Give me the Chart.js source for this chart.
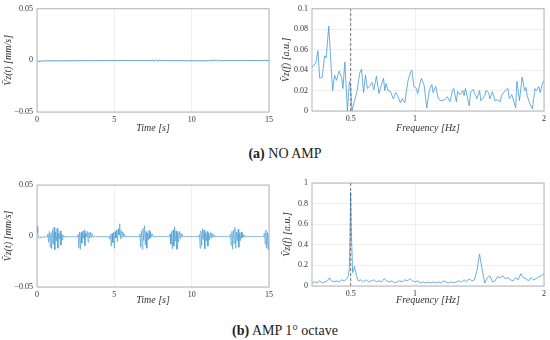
<!DOCTYPE html>
<html><head><meta charset="utf-8">
<script src="https://cdn.jsdelivr.net/npm/chart.js@4/dist/chart.umd.min.js"></script>
<style>
body{margin:0;background:#fff;width:550px;height:340px;position:relative;overflow:hidden}
canvas{position:absolute}
.cap{position:absolute;left:10px;width:550px;text-align:center;font-family:"Liberation Serif",serif;font-size:14px;line-height:16px;color:#222}
</style></head><body>
<canvas id="c1" width="280" height="137" style="left:0;top:0"></canvas>
<canvas id="c2" width="278" height="137" style="left:272px;top:0"></canvas>
<canvas id="c3" width="280" height="137" style="left:0;top:172px"></canvas>
<canvas id="c4" width="278" height="137" style="left:272px;top:172px"></canvas>
<div class="cap" style="top:146px"><b>(a)</b> NO AMP</div>
<div class="cap" style="top:323px"><b>(b)</b> AMP 1° octave</div>
<script>
// ---------- DATA ----------
const timeStepA = 0.1;   // s, NO AMP time series sampling
const timeStepB = 0.05;  // s, AMP time series sampling
const noAmpTime = [
 0.0002,-0.0012,-0.0009,-0.0007,-0.0006,-0.0005,-0.0006,-0.0004,-0.0005,-0.0004,
 -0.0005,-0.0003,-0.0004,-0.0005,-0.0003,-0.0004,-0.0006,-0.0004,-0.0005,-0.0003,
 -0.0004,-0.0005,-0.0003,-0.0004,-0.0004,-0.0002,-0.0004,-0.0003,-0.0004,-0.0002,
 -0.0003,-0.0004,-0.0002,-0.0003,-0.0003,-0.0002,-0.0004,-0.0002,-0.0003,-0.0002,
 -0.0002,-0.0003,-0.0002,-0.0003,-0.0001,-0.0002,-0.0003,-0.0002,-0.0002,-0.0003,
 -0.0002,-0.0001,-0.0003,-0.0002,-0.0002,-0.0001,-0.0003,-0.0002,-0.0001,-0.0002,
 -0.0002,-0.0003,-0.0001,-0.0002,-0.0002,-0.0001,-0.0003,-0.0002,-0.0002,-0.0001,
 -0.0002,-0.0003,-0.0001,-0.0002,-0.0004,0.0004,-0.0008,0.0006,-0.0007,0.0003,
 -0.0004,-0.0002,-0.0003,-0.0001,-0.0002,-0.0003,-0.0002,-0.0003,-0.0002,-0.0004,
 -0.0003,-0.0002,-0.0004,-0.0003,-0.0002,-0.0004,-0.0003,-0.0004,-0.0003,-0.0005,
 -0.0004,-0.0003,-0.0005,-0.0004,-0.0003,-0.0004,-0.0005,-0.0003,-0.0004,-0.0003,
 -0.0004,-0.0002,-0.0005,0.0004,-0.0007,0.0006,-0.0006,0.0005,-0.0004,-0.0002,
 -0.0003,-0.0002,-0.0003,-0.0001,-0.0002,-0.0003,-0.0002,-0.0001,-0.0002,-0.0003,
 -0.0002,-0.0001,-0.0002,-0.0003,-0.0001,-0.0002,-0.0001,-0.0002,-0.0003,-0.0001,
 -0.0002,-0.0001,-0.0003,0.0002,-0.0004,0.0003,-0.0003,0.0001,-0.0002,-0.0001,
 0
];
const ampTime = [
 0.0095,0.0030,-0.0015,-0.0022,-0.0012,-0.0018,-0.0010,-0.0014,-0.0009,-0.0011,-0.0008,-0.0010,-0.0007,-0.0009, 0.0020,-0.0060,0.0045,-0.0110,0.0030,-0.0125,
 0.0060,-0.0080,0.0085,-0.0135,0.0040,-0.0050,0.0075,-0.0120,0.0025,-0.0030,0.0050,-0.0090,0.0020,-0.0040,0.0010, -0.0010,-0.0005,-0.0009,-0.0006,-0.0008,
 -0.0006,-0.0008,-0.0005,-0.0007,-0.0006,-0.0008,-0.0005,-0.0007,-0.0006,-0.0005,-0.0007,-0.0006,-0.0008, 0.0015,-0.0115,0.0040,-0.0130,0.0035,-0.0070,0.0050,
 -0.0025,0.0055,-0.0095,0.0030,-0.0010,0.0045,-0.0060,0.0035,-0.0020,0.0040,-0.0015,0.0025,-0.0005, -0.0008,-0.0006,-0.0007,-0.0005,-0.0008,-0.0006,-0.0007,
 -0.0006,-0.0008,-0.0005,-0.0007,-0.0006,-0.0004,-0.0007,-0.0005,-0.0006,-0.0008,-0.0005,-0.0006,-0.0007,-0.0005, -0.0030,0.0015,-0.0100,0.0025,-0.0065,0.0035,
 -0.0120,0.0045,-0.0020,0.0060,-0.0055,0.0070,0.0010,0.0120,-0.0030,0.0055,-0.0015,0.0040,-0.0005,0.0020,-0.0010, -0.0006,-0.0008,-0.0005,-0.0007,-0.0006,
 -0.0005,-0.0007,-0.0006,-0.0004,-0.0007,-0.0005,-0.0006,-0.0008,-0.0005,-0.0006,-0.0007,-0.0005,-0.0006, 0.0020,-0.0110,0.0050,-0.0130,0.0075,-0.0045,0.0100,
 -0.0090,0.0045,-0.0120,0.0030,-0.0040,0.0055,-0.0025,0.0035,-0.0010,0.0020,-0.0005, -0.0007,-0.0005,-0.0008,-0.0006,-0.0005,-0.0007,-0.0006,-0.0004,-0.0006,
 -0.0005,-0.0007,-0.0006,-0.0005,-0.0008,-0.0006,-0.0004,-0.0007,-0.0005,-0.0006,-0.0007,-0.0005, 0.0020,-0.0080,0.0045,-0.0125,0.0060,-0.0100,0.0090,-0.0050,
 0.0050,-0.0130,0.0035,-0.0060,0.0045,-0.0025,0.0030,-0.0010,0.0015,-0.0005, -0.0007,-0.0005,-0.0006,-0.0008,-0.0005,-0.0006,-0.0007,-0.0005,-0.0006,-0.0004,
 -0.0006,-0.0005,-0.0007,-0.0006,-0.0004,-0.0007,-0.0005,-0.0006,-0.0008,-0.0005, 0.0015,-0.0120,0.0050,-0.0090,0.0070,-0.0035,0.0060,-0.0125,0.0030,-0.0050,
 0.0045,-0.0100,0.0025,-0.0040,0.0035,-0.0020,0.0030,-0.0010,0.0015,-0.0005,0.0005, -0.0007,-0.0005,-0.0006,-0.0008,-0.0005,-0.0006,-0.0004,-0.0007,-0.0005,
 -0.0006,-0.0005,-0.0007,-0.0006,-0.0004,-0.0007,-0.0005,-0.0006,-0.0005,-0.0007, 0.0020,-0.0090,0.0045,-0.0130,0.0060,-0.0070,0.0085,-0.0120,0.0040,-0.0050,
 0.0065,-0.0110,0.0030,-0.0045,0.0040,-0.0020,0.0025,-0.0010,0.0010,-0.0005, -0.0007,-0.0005,-0.0006,-0.0008,-0.0005,-0.0006,-0.0004,-0.0007,-0.0005,-0.0006,
 -0.0005,-0.0007,-0.0006,-0.0004,-0.0007,-0.0005,-0.0006,-0.0008,-0.0005,-0.0006,-0.0007,-0.0005,-0.0006,-0.0005, 0.0030,-0.0080,0.0060,-0.0120,0.0035,-0.0135,
 0.0020
];
const noAmpFreq = [
 0.2,0.215,0.23,0.246,0.26,0.28,0.297,0.31,0.33,0.36,
 0.375,0.39,0.41,0.43,0.44,0.455,0.475,0.49,0.5,0.51,
 0.53,0.55,0.57,0.585,0.6,0.615,0.63,0.65,0.665,0.68,
 0.7,0.72,0.735,0.755,0.765,0.775,0.79,0.81,0.83,0.85,
 0.865,0.885,0.9,0.92,0.945,0.965,0.975,0.99,1.01,1.02,
 1.04,1.05,1.07,1.09,1.11,1.13,1.14,1.16,1.18,1.2,
 1.23,1.25,1.27,1.29,1.3,1.32,1.33,1.35,1.37,1.38,
 1.39,1.42,1.43,1.45,1.47,1.48,1.5,1.51,1.54,1.55,
 1.57,1.58,1.6,1.62,1.64,1.66,1.67,1.7,1.72,1.73,
 1.75,1.78,1.79,1.81,1.83,1.85,1.86,1.87,1.89,1.91,
 1.93,1.94,1.96,1.97,1.99,2.0
];
const noAmpSpec = [
 0.043,0.045,0.047,0.059,0.032,0.033,0.054,0.052,0.083,0.020,
 0.035,0.030,0.039,0.033,0.022,0.048,0.000,0.029,0.024,0.000,
 0.010,0.020,0.037,0.041,0.018,0.035,0.022,0.025,0.028,0.021,
 0.034,0.017,0.024,0.032,0.020,0.027,0.020,0.019,0.012,0.018,
 0.015,0.008,0.012,0.008,0.030,0.038,0.040,0.024,0.022,0.017,
 0.028,0.032,0.025,0.003,0.020,0.026,0.018,0.024,0.012,0.010,
 0.011,0.014,0.009,0.020,0.022,0.009,0.019,0.016,0.020,0.015,
 0.022,0.005,0.018,0.021,0.015,0.012,0.020,0.010,0.015,0.020,
 0.018,0.012,0.019,0.010,0.011,0.009,0.015,0.020,0.022,0.012,
 0.016,0.003,0.029,0.010,0.033,0.020,0.023,0.015,0.007,0.002,
 0.022,0.020,0.024,0.018,0.028,0.030
];
const ampFreq = [
 0.2,0.22,0.24,0.26,0.28,0.3,0.32,0.335,0.35,0.37,
 0.39,0.41,0.43,0.45,0.47,0.48,0.49,0.5,0.505,0.515,
 0.53,0.545,0.56,0.58,0.6,0.62,0.64,0.66,0.68,0.7,
 0.72,0.74,0.76,0.78,0.8,0.82,0.84,0.86,0.88,0.9,
 0.92,0.94,0.96,0.98,1.0,1.02,1.04,1.06,1.08,1.1,
 1.12,1.14,1.16,1.18,1.2,1.22,1.24,1.26,1.28,1.3,
 1.32,1.34,1.36,1.38,1.4,1.42,1.44,1.46,1.48,1.5,
 1.52,1.54,1.56,1.58,1.6,1.62,1.64,1.66,1.68,1.7,
 1.72,1.74,1.76,1.78,1.8,1.82,1.84,1.86,1.88,1.9,
 1.92,1.94,1.96,1.98,2.0
];
const ampSpec = [
 0.03,0.04,0.03,0.05,0.03,0.04,0.05,0.08,0.05,0.04,
 0.05,0.04,0.06,0.05,0.07,0.09,0.17,0.91,0.55,0.13,
 0.19,0.10,0.05,0.06,0.04,0.06,0.04,0.05,0.06,0.04,
 0.05,0.04,0.07,0.05,0.04,0.05,0.03,0.04,0.05,0.04,
 0.06,0.05,0.07,0.05,0.04,0.05,0.03,0.04,0.03,0.04,
 0.03,0.04,0.03,0.04,0.03,0.05,0.04,0.03,0.04,0.03,
 0.04,0.05,0.04,0.06,0.04,0.07,0.05,0.06,0.15,0.31,
 0.16,0.03,0.08,0.10,0.04,0.05,0.09,0.08,0.10,0.07,
 0.08,0.06,0.05,0.08,0.06,0.12,0.08,0.07,0.05,0.08,
 0.06,0.07,0.09,0.10,0.12
];
const markerFreq = 0.5; // Hz, dashed reference line
const timeTicks = [0, 5, 10, 15];
const freqTicks = [0.5, 1, 2];
const timeYTicks = [-0.05, 0, 0.05];
const specYTicksA = [0, 0.02, 0.04, 0.06, 0.08, 0.1];
const specYTicksB = [0, 0.2, 0.4, 0.6, 0.8, 1];

// ---------- CHARTS ----------
Chart.defaults.devicePixelRatio = 1;
const serif = '"Liberation Serif", "Times New Roman", serif';
const tickFont = {family: serif, size: 8};
const titleFont = {family: serif, size: 10, style: 'italic'};
const GRID = '#ebebeb', TXT = '#333', LINE = 'rgba(60,150,210,0.85)';

const boxPlugin = {id: 'box', afterDraw(chart) {
  const {ctx, chartArea: a} = chart;
  ctx.save(); ctx.strokeStyle = '#a6a6a6'; ctx.lineWidth = 0.8;
  ctx.strokeRect(a.left, a.top, a.right - a.left, a.bottom - a.top);
  ctx.restore();
}};
const fmt = v => String(Math.round(v * 1e6) / 1e6).replace('-', '\u2212');

function series(xs, ys) { return xs.map((x, i) => ({x, y: ys[i]})); }
function timeSeries(step, ys) { return ys.map((y, i) => ({x: +(i * step).toFixed(3), y})); }

function make(id, o) {
  const datasets = [{data: o.data, borderColor: LINE, borderWidth: o.lw, pointRadius: 0, tension: 0, order: 1}];
  if (o.marker !== undefined) datasets.push({
    data: [{x: o.marker, y: o.ymin}, {x: o.marker, y: o.ymax}],
    borderColor: '#555', borderWidth: 0.8, borderDash: [3, 2], pointRadius: 0, order: 0});
  new Chart(document.getElementById(id), {
    type: 'line',
    data: {datasets},
    options: {
      responsive: false, animation: false, events: [],
      layout: {padding: {top: o.pt, right: o.pr, left: 0, bottom: 0}},
      plugins: {legend: {display: false}, tooltip: {enabled: false}},
      scales: {
        x: {type: 'linear', min: o.xmin, max: o.xmax,
          afterBuildTicks: s => { s.ticks = o.xt.map(v => ({value: v})); },
          afterFit: s => { s.height = o.xh; },
          grid: {color: GRID, lineWidth: 0.8, drawTicks: false},
          border: {display: false},
          ticks: {padding: 3, color: TXT, font: tickFont, maxRotation: 0, autoSkip: false, callback: v => fmt(v)},
          title: {display: true, text: o.xtitle, font: titleFont, color: TXT, padding: {top: 0, bottom: 3}}},
        y: {type: 'linear', min: o.ymin, max: o.ymax,
          afterBuildTicks: s => { s.ticks = o.yt.map(v => ({value: v})); },
          afterFit: s => { s.width = o.yw; },
          grid: {color: GRID, lineWidth: 0.8, drawTicks: false},
          border: {display: false},
          ticks: {padding: 4, color: TXT, font: tickFont, autoSkip: false, callback: v => fmt(v)},
          title: {display: true, text: o.ytitle, font: titleFont, color: TXT, padding: {top: o.ytp, bottom: 0}}}
      }
    },
    plugins: [boxPlugin]
  });
}

make('c1', {data: timeSeries(timeStepA, noAmpTime), lw: 1, xmin: 0, xmax: 15, xt: timeTicks,
  ymin: -0.05, ymax: 0.05, yt: timeYTicks, xtitle: 'Time [s]', ytitle: 'V\u0304z(t) [mm/s]',
  pt: 8, pr: 11, xh: 25, yw: 37, ytp: 2});
make('c2', {data: series(noAmpFreq, noAmpSpec), lw: 0.9, xmin: 0.2, xmax: 2, xt: freqTicks,
  ymin: 0, ymax: 0.1, yt: specYTicksA, xtitle: 'Frequency [Hz]', ytitle: 'V\u0304z(f) [a.u.]',
  pt: 8, pr: 6, xh: 26, yw: 40, ytp: 8, marker: markerFreq});
make('c3', {data: timeSeries(timeStepB, ampTime), lw: 0.7, xmin: 0, xmax: 15, xt: timeTicks,
  ymin: -0.05, ymax: 0.05, yt: timeYTicks, xtitle: 'Time [s]', ytitle: 'V\u0304z(t) [mm/s]',
  pt: 13, pr: 11, xh: 22, yw: 37, ytp: 2});
make('c4', {data: series(ampFreq, ampSpec), lw: 0.9, xmin: 0.2, xmax: 2, xt: freqTicks,
  ymin: 0, ymax: 1, yt: specYTicksB, xtitle: 'Frequency [Hz]', ytitle: 'V\u0304z(f) [a.u.]',
  pt: 11, pr: 6, xh: 23, yw: 40, ytp: 9, marker: markerFreq});
</script>
</body></html>
